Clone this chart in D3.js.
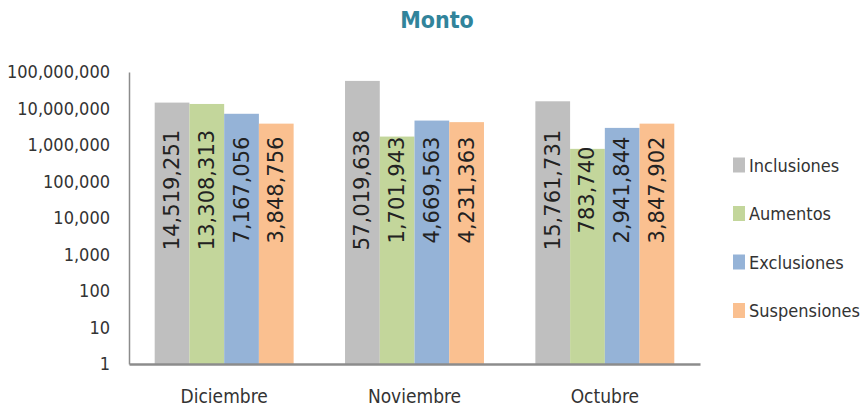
<!DOCTYPE html>
<html>
<head>
<meta charset="utf-8">
<script src="https://cdn.jsdelivr.net/npm/d3@7"></script>
<style>
  body { margin: 0; background: #fff; }
  text.cond { font-family: "DejaVu Sans", sans-serif; font-stretch: condensed; }
</style>
</head>
<body>
<div id="chart"></div>
<script>
// chart data
const months = ["Diciembre", "Noviembre", "Octubre"];
const seriesNames = ["Inclusiones", "Aumentos", "Exclusiones", "Suspensiones"];
const inclusiones = [14519251, 57019638, 15761731];
const aumentos = [13308313, 1701943, 783740];
const exclusiones = [7167056, 4669563, 2941844];
const suspensiones = [3848756, 4231363, 3847902];
const tickValues = [1, 10, 100, 1000, 10000, 100000, 1000000, 10000000, 100000000];

const colors = ["#BFBFBF", "#C3D69B", "#95B3D7", "#FAC090"];
const allSeries = [inclusiones, aumentos, exclusiones, suspensiones];

const width = 863, height = 412;

const svg = d3.select("#chart")
    .append("svg")
    .attr("width", width)
    .attr("height", height);

// scales
const x = d3.scaleBand()
    .domain(months)
    .range([129, 700])
    .paddingInner(0.27)
    .paddingOuter(0.135);

const xInner = d3.scaleBand()
    .domain(seriesNames)
    .range([0, x.bandwidth()]);

const y = d3.scaleLog()
    .domain([1, 100000000])
    .range([364, 72]);

// title
svg.append("text")
    .attr("class", "cond")
    .attr("x", 437)
    .attr("y", 28)
    .attr("text-anchor", "middle")
    .attr("font-size", 23)
    .attr("font-weight", "bold")
    .attr("fill", "#31849B")
    .text("Monto");

// y axis
const yAxis = svg.append("g")
    .attr("transform", "translate(129,0)")
    .call(d3.axisLeft(y).tickValues(tickValues).tickSize(0).tickPadding(19).tickFormat(d3.format(",")));
yAxis.select(".domain").attr("stroke", "#8c8c8c").attr("stroke-width", 1.5);
yAxis.selectAll("text")
    .attr("class", "cond")
    .attr("font-size", 18)
    .attr("fill", "#333");

// bars
const rows = [];
months.forEach((m, i) => {
  seriesNames.forEach((s, j) => {
    rows.push({ month: m, series: s, value: allSeries[j][i], color: colors[j] });
  });
});

svg.append("g").selectAll("rect")
    .data(rows)
    .enter()
    .append("rect")
    .attr("x", d => x(d.month) + xInner(d.series))
    .attr("y", d => y(d.value))
    .attr("width", xInner.bandwidth())
    .attr("height", d => y(1) - y(d.value))
    .attr("fill", d => d.color);

// value labels (rotated)
svg.append("g").selectAll("text")
    .data(rows)
    .enter()
    .append("text")
    .attr("transform", d => `translate(${x(d.month) + xInner(d.series) + xInner.bandwidth() / 2},190) rotate(-90)`)
    .attr("text-anchor", "middle")
    .attr("dominant-baseline", "central")
    .attr("font-size", 21)
    .attr("fill", "#222")
    .style("font-family", '"DejaVu Sans", Verdana, sans-serif')
    .text(d => d3.format(",")(d.value));

// x axis
const xAxis = svg.append("g")
    .attr("transform", "translate(0,364)")
    .call(d3.axisBottom(x).tickSize(0).tickPadding(26));
xAxis.select(".domain").attr("stroke", "#8c8c8c").attr("stroke-width", 2.5);
xAxis.selectAll("text")
    .attr("class", "cond")
    .attr("font-size", 19)
    .attr("fill", "#333");

// legend
const legend = svg.append("g").selectAll("g")
    .data(seriesNames)
    .enter()
    .append("g")
    .attr("transform", (d, i) => `translate(733,${165 + i * 48.5})`);

legend.append("rect")
    .attr("x", 0)
    .attr("y", -7.5)
    .attr("width", 12)
    .attr("height", 15)
    .attr("fill", (d, i) => colors[i]);

legend.append("text")
    .attr("class", "cond")
    .attr("x", 16)
    .attr("y", 0)
    .attr("dominant-baseline", "central")
    .attr("font-size", 18)
    .attr("fill", "#333")
    .text(d => d);
</script>
</body>
</html>
